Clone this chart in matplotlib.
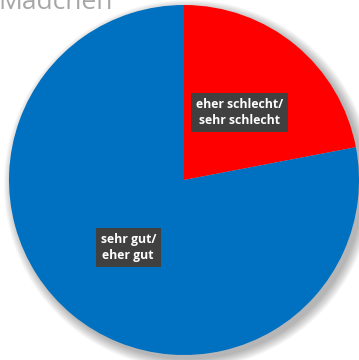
import matplotlib.pyplot as plt
from matplotlib.patches import Circle

# data
labels = ["eher schlecht/\nsehr schlecht", "sehr gut/\neher gut"]
values = [22, 78]
colors = ["#FF0000", "#0070C0"]
title = "Mädchen"

fig = plt.figure(figsize=(3.59, 3.6), dpi=100)
ax = fig.add_axes([9 / 359, 5 / 360, 350 / 359, 350 / 360])

# soft shadow behind the pie
for i in range(10):
    r = 1.0 + 0.006 * i
    ax.add_patch(Circle((0.025, -0.025), r, color="black", alpha=0.03,
                        lw=0, zorder=0, clip_on=False))

wedges, texts = ax.pie(values, labels=labels, colors=colors, startangle=90,
                       counterclock=False, labeldistance=0.5,
                       wedgeprops=dict(linewidth=0, zorder=2),
                       textprops=dict(color="white", fontsize=8.8, fontweight="bold",
                                      ha="center", va="center", linespacing=1.35,
                                      family=["Open Sans", "DejaVu Sans"]))
for t in texts:
    t.set_zorder(5)
    t.set_bbox(dict(boxstyle="square,pad=0.4", facecolor="#404040",
                    edgecolor="none"))

ax.set_xlim(-1, 1)
ax.set_ylim(-1, 1)
ax.axis("off")

fig.text(-2 / 359, 1 - 9 / 360, title, color="#A6A6A6", fontsize=19,
         ha="left", va="baseline", family=["Open Sans", "DejaVu Sans"])

fig.savefig("out.png", dpi=100)
